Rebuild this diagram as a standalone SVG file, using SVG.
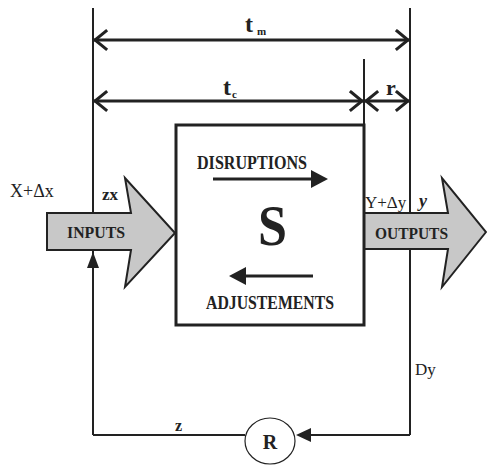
<svg xmlns="http://www.w3.org/2000/svg" width="487" height="468" viewBox="0 0 487 468">
<style>
.ln{stroke:#222;stroke-width:2;fill:none}
.dim{stroke:#222;stroke-width:3;fill:none;stroke-linecap:square}
.big{fill:#c8c8c8;stroke:#222;stroke-width:2;stroke-linejoin:miter}
.b{font-family:"Liberation Serif",serif;font-weight:bold;fill:#222}
.n{font-family:"Liberation Serif",serif;fill:#222}
</style>
<rect width="487" height="468" fill="#fff"/>
<g id="connectors">
<line class="ln" x1="93" y1="8" x2="93" y2="435"/>
<line class="ln" x1="410" y1="8" x2="410" y2="435"/>
<line class="ln" x1="364" y1="59" x2="364" y2="125"/>
<polyline class="ln" points="93,435 245,435"/>
<polyline class="ln" points="410,435 305,435"/>
<polygon points="296,435 311,428 311,442" fill="#222"/>
<polygon points="93,252 87,268 99,268" fill="#222"/>
<g id="tm">
<line class="dim" x1="95" y1="40" x2="408" y2="40"/>
<polyline class="dim" points="106,31 95,40 106,49"/>
<polyline class="dim" points="397,31 408,40 397,49"/>
</g>
<g id="tc">
<line class="dim" x1="95" y1="101" x2="362" y2="101"/>
<polyline class="dim" points="106,92 95,101 106,110"/>
<polyline class="dim" points="351,92 362,101 351,110"/>
</g>
<g id="r">
<line class="dim" x1="366" y1="101" x2="408" y2="101"/>
<polyline class="dim" points="377,92 366,101 377,110"/>
<polyline class="dim" points="397,92 408,101 397,110"/>
</g>
</g>
<g id="inputs">
<polygon class="big" points="47,213 131,213 125,178 175,233 125,287 131,250 47,250"/>
<text class="b" x="67" y="238" font-size="16" textLength="58" lengthAdjust="spacingAndGlyphs">INPUTS</text>
</g>
<g id="outputs">
<polygon class="big" points="364,213 448,213 442,178 486,232 442,287 448,249 364,249"/>
<text class="b" x="375" y="239" font-size="17" textLength="73" lengthAdjust="spacingAndGlyphs">OUTPUTS</text>
</g>
<g id="system">
<rect x="176" y="125" width="188" height="200" fill="#fff" stroke="#222" stroke-width="3"/>
<text class="b" x="197" y="169" font-size="19" textLength="110" lengthAdjust="spacingAndGlyphs">DISRUPTIONS</text>
<line x1="213" y1="179" x2="313" y2="179" stroke="#222" stroke-width="3"/>
<polygon points="328,179 311,170 311,188" fill="#222"/>
<text class="b" x="258" y="245" font-size="58" textLength="29" lengthAdjust="spacingAndGlyphs">S</text>
<line x1="245" y1="276" x2="313" y2="276" stroke="#222" stroke-width="3"/>
<polygon points="229,276 246,267 246,285" fill="#222"/>
<text class="b" x="206" y="309" font-size="19" textLength="128" lengthAdjust="spacingAndGlyphs">ADJUSTEMENTS</text>
</g>
<g id="regulator">
<ellipse cx="270" cy="441" rx="25" ry="23" fill="#fff" stroke="#222" stroke-width="1.2"/>
<text class="b" x="270" y="449" font-size="20" text-anchor="middle">R</text>
</g>
<g id="labels">
<text class="b" x="245" y="32" font-size="24">t</text>
<text class="b" x="257" y="35" font-size="11">m</text>
<text class="b" x="223" y="95" font-size="24">t</text>
<text class="b" x="232" y="98" font-size="11">c</text>
<text class="b" x="386" y="95" font-size="22">r</text>
<text class="n" x="10" y="197" font-size="18">X+Δx</text>
<text class="b" x="102" y="200" font-size="17">zx</text>
<text class="n" x="365" y="208" font-size="17">Y+Δy</text>
<text class="b" x="419" y="207" font-size="18" font-style="italic">y</text>
<text class="n" x="415" y="375" font-size="17">Dy</text>
<text class="b" x="175" y="431" font-size="16">z</text>
</g>
</svg>
